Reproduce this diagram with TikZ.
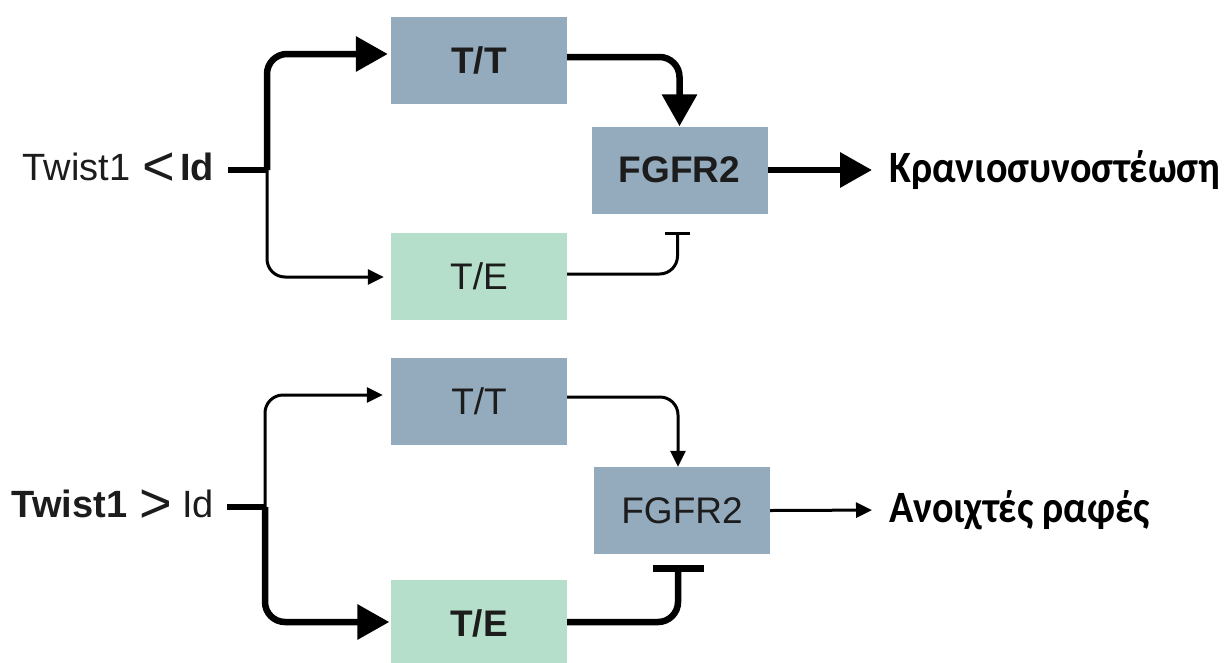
\documentclass[tikz,border=0pt]{standalone}
\usepackage{fontspec}
\setmainfont{Liberation Sans}
\newfontfamily\greekf{Carlito}
\usetikzlibrary{arrows.meta}
\definecolor{boxblue}{HTML}{94ABBE}
\definecolor{boxgreen}{HTML}{B5DFCA}
\definecolor{ink}{HTML}{1C1C1C}
\newcommand{\bigrel}[1]{\raisebox{-5pt}{\fontsize{56}{56}\selectfont #1}}
\tikzset{
  box/.style={fill=boxblue, minimum width=176pt, minimum height=87pt, inner sep=0pt, text=ink, font=\fontsize{37}{40}\selectfont},
  gbox/.style={box, fill=boxgreen},
  bld/.style={font=\fontsize{37}{40}\selectfont\bfseries},
  thn/.style={line width=3pt, draw=black, rounded corners=18pt},
  thk/.style={line width=6.5pt, draw=black, rounded corners=20pt},
  smallhead/.style={-{Triangle[length=16pt,width=15pt]}},
  bighead/.style={-{Triangle[length=32pt,width=34pt]}},
  lbl/.style={inner sep=0pt, text=ink, font=\fontsize{38}{40}\selectfont},
  outtxt/.style={inner sep=0pt, anchor=west, text=black, font=\greekf\bfseries\fontsize{40}{44}\selectfont}
}
\begin{document}
\begin{tikzpicture}[x=1pt,y=-1pt]
\useasboundingbox (0,0) rectangle (1225,662);
\clip (0,0) rectangle (1225,662);
% ---------- top ----------
\node[box,bld] (tt1) at (479,60.5) {T/T};
\node[box,bld] (fg1) at (679.5,170) {FGFR2};
\node[gbox] (te1) at (479,276) {T/E};
\node[lbl,anchor=east] (in1) at (214,169) {Twist1\hspace{12pt}\bigrel{<}\hspace{5pt}\textbf{Id}};
\node[outtxt] (out1) at (889,170) {\scalebox{1}[1.12]{Κρανιοσυνοστέωση}};
\coordinate (s1) at (228,170);
\coordinate (j1) at (267,170);
\draw[line width=6.5pt] (s1) -- (j1);
\draw[thk,bighead,shorten >=3pt] (j1) |- ([yshift=6.5pt]tt1.west);
\draw[thn,smallhead,shorten >=7pt] (j1) |- ([yshift=-1pt]te1.west);
\draw[thk,bighead] ([yshift=3.5pt]tt1.east) -| (fg1.north);
\draw[thk,bighead,shorten >=17pt] (fg1.east) -- (out1.west);
\draw[thn,-{Bar[width=25pt,line width=3pt]}] ([yshift=2pt]te1.east) -| ([xshift=-2pt,yshift=-18pt]fg1.south);
% ---------- bottom ----------
\node[box] (tt2) at (479,401.5) {T/T};
\node[box] (fg2) at (682,510.5) {FGFR2};
\node[gbox,bld] (te2) at (479,623.5) {T/E};
\node[lbl,anchor=east] (in2) at (214,506) {\textbf{Twist1}\hspace{12pt}\bigrel{>}\hspace{10pt}Id};
\node[outtxt] (out2) at (889,510) {\scalebox{1}[1.12]{Ανοιχτές ραφές}};
\coordinate (s2) at (227,507);
\coordinate (j2) at (265,507);
\draw[line width=6.5pt] (s2) -- (j2);
\draw[thn,smallhead,shorten >=8pt] (j2) |- ([yshift=6.5pt]tt2.west);
\draw[thk,bighead,shorten >=1.5pt] (j2) |- ([yshift=1.5pt]te2.west);
\draw[thn,smallhead] ([yshift=4.5pt]tt2.east) -| ([xshift=-4pt]fg2.north);
\draw[thn,smallhead,shorten >=17pt] (fg2.east) -- (out2.west);
\draw[thk,-{Bar[width=51pt,line width=6.5pt]}] ([yshift=1.5pt]te2.east) -| ([xshift=-4pt,yshift=-11pt]fg2.south);
\end{tikzpicture}
\end{document}
